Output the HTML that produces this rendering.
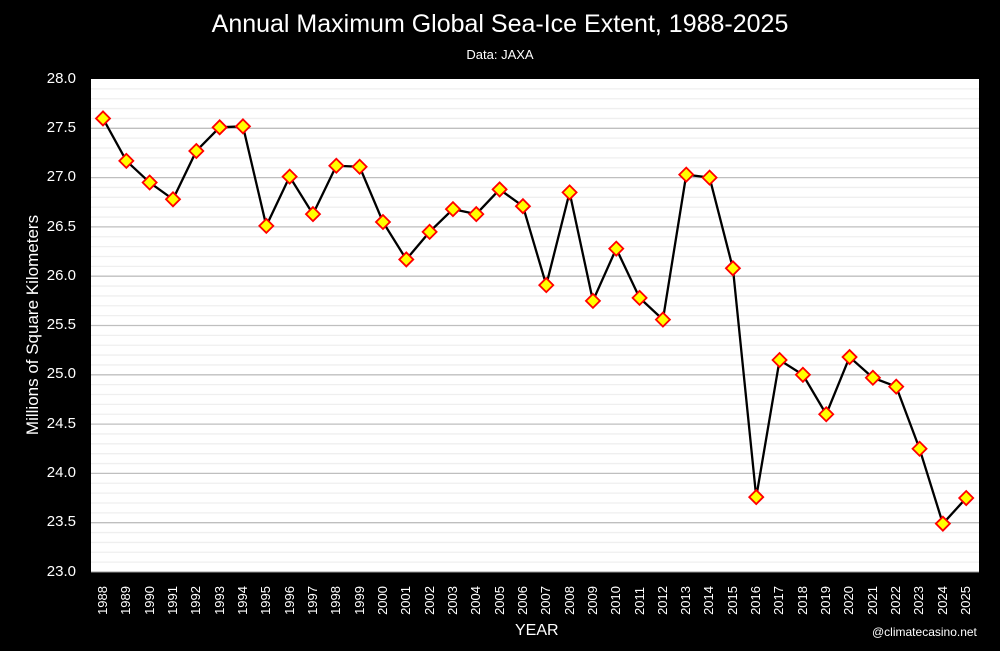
<!DOCTYPE html>
<html><head><meta charset="utf-8"><style>
body{margin:0;width:1000px;height:651px;background:#000;overflow:hidden;font-family:"Liberation Sans",sans-serif;color:#fff;position:relative}
.t{position:absolute;left:0;width:1000px;text-align:center}
.yl{position:absolute;left:30px;width:46px;text-align:right;font-size:15px}
#xl{position:absolute;left:91.3px;top:583px;display:flex}
#xl div{width:23.33px;height:32px;display:flex;justify-content:center;align-items:flex-end}
#xl span{writing-mode:vertical-rl;transform:rotate(180deg);font-size:13px;line-height:14px}
</style></head><body>
<div class="t" style="top:10px;font-size:25px">Annual Maximum Global Sea-Ice Extent, 1988-2025</div>
<div class="t" style="top:47px;font-size:13px">Data: JAXA</div>
<svg id="s" width="1000" height="651" style="position:absolute;left:0;top:0"></svg>
<div class="yl" style="top:70px">28.0</div><div class="yl" style="top:119px">27.5</div>
<div class="yl" style="top:168px">27.0</div><div class="yl" style="top:218px">26.5</div>
<div class="yl" style="top:267px">26.0</div><div class="yl" style="top:316px">25.5</div>
<div class="yl" style="top:365px">25.0</div><div class="yl" style="top:415px">24.5</div>
<div class="yl" style="top:464px">24.0</div><div class="yl" style="top:513px">23.5</div>
<div class="yl" style="top:563px">23.0</div>
<div style="position:absolute;left:33px;top:325px;transform:translate(-50%,-50%) rotate(-90deg);font-size:17px;white-space:nowrap">Millions of Square Kilometers</div>
<div id="xl"><div><span>1988</span></div><div><span>1989</span></div><div><span>1990</span></div><div><span>1991</span></div><div><span>1992</span></div><div><span>1993</span></div><div><span>1994</span></div><div><span>1995</span></div><div><span>1996</span></div><div><span>1997</span></div><div><span>1998</span></div><div><span>1999</span></div><div><span>2000</span></div><div><span>2001</span></div><div><span>2002</span></div><div><span>2003</span></div><div><span>2004</span></div><div><span>2005</span></div><div><span>2006</span></div><div><span>2007</span></div><div><span>2008</span></div><div><span>2009</span></div><div><span>2010</span></div><div><span>2011</span></div><div><span>2012</span></div><div><span>2013</span></div><div><span>2014</span></div><div><span>2015</span></div><div><span>2016</span></div><div><span>2017</span></div><div><span>2018</span></div><div><span>2019</span></div><div><span>2020</span></div><div><span>2021</span></div><div><span>2022</span></div><div><span>2023</span></div><div><span>2024</span></div><div><span>2025</span></div></div>
<div style="position:absolute;left:515px;top:622px;font-size:16px">YEAR</div>
<div style="position:absolute;left:872px;top:625px;font-size:12px">@climatecasino.net</div>
<script>
var v=[27.6,27.17,26.95,26.78,27.27,27.51,27.52,26.51,27.01,26.63,27.12,27.11,26.55,26.17,26.45,26.68,26.63,26.88,26.71,25.91,26.85,25.75,26.28,25.78,25.56,27.03,27.0,26.08,23.76,25.15,25.0,24.6,25.18,24.97,24.88,24.25,23.49,23.75];
var L=91,R=979,T=79,B=572,h='';
function Y(x){return T+(28-x)*(B-T)/5}
h+='<rect x="'+L+'" y="'+T+'" width="'+(R-L)+'" height="'+(B-T)+'" fill="#fff"/>';
for(var i=1;i<50;i++){var y=T+i*(B-T)/50;h+='<line x1="'+L+'" x2="'+R+'" y1="'+y+'" y2="'+y+'" stroke="'+(i%5==0?'#bfbfbf':'#efefef')+'" stroke-width="1.3"/>';}
h+='<line x1="'+L+'" x2="'+R+'" y1="'+B+'" y2="'+B+'" stroke="#999"/>';
var p=v.map(function(a,i){return (103+23.33*i)+','+Y(a)}).join(' ');
h+='<polyline points="'+p+'" fill="none" stroke="#000" stroke-width="2.3"/>';
v.forEach(function(a,i){var x=103+23.33*i,y=Y(a);h+='<polygon points="'+x+','+(y-7)+' '+(x+7)+','+y+' '+x+','+(y+7)+' '+(x-7)+','+y+'" fill="#ffff00" stroke="#ff0000" stroke-width="1.8"/>';});
document.getElementById('s').innerHTML=h;
</script>
</body></html>
